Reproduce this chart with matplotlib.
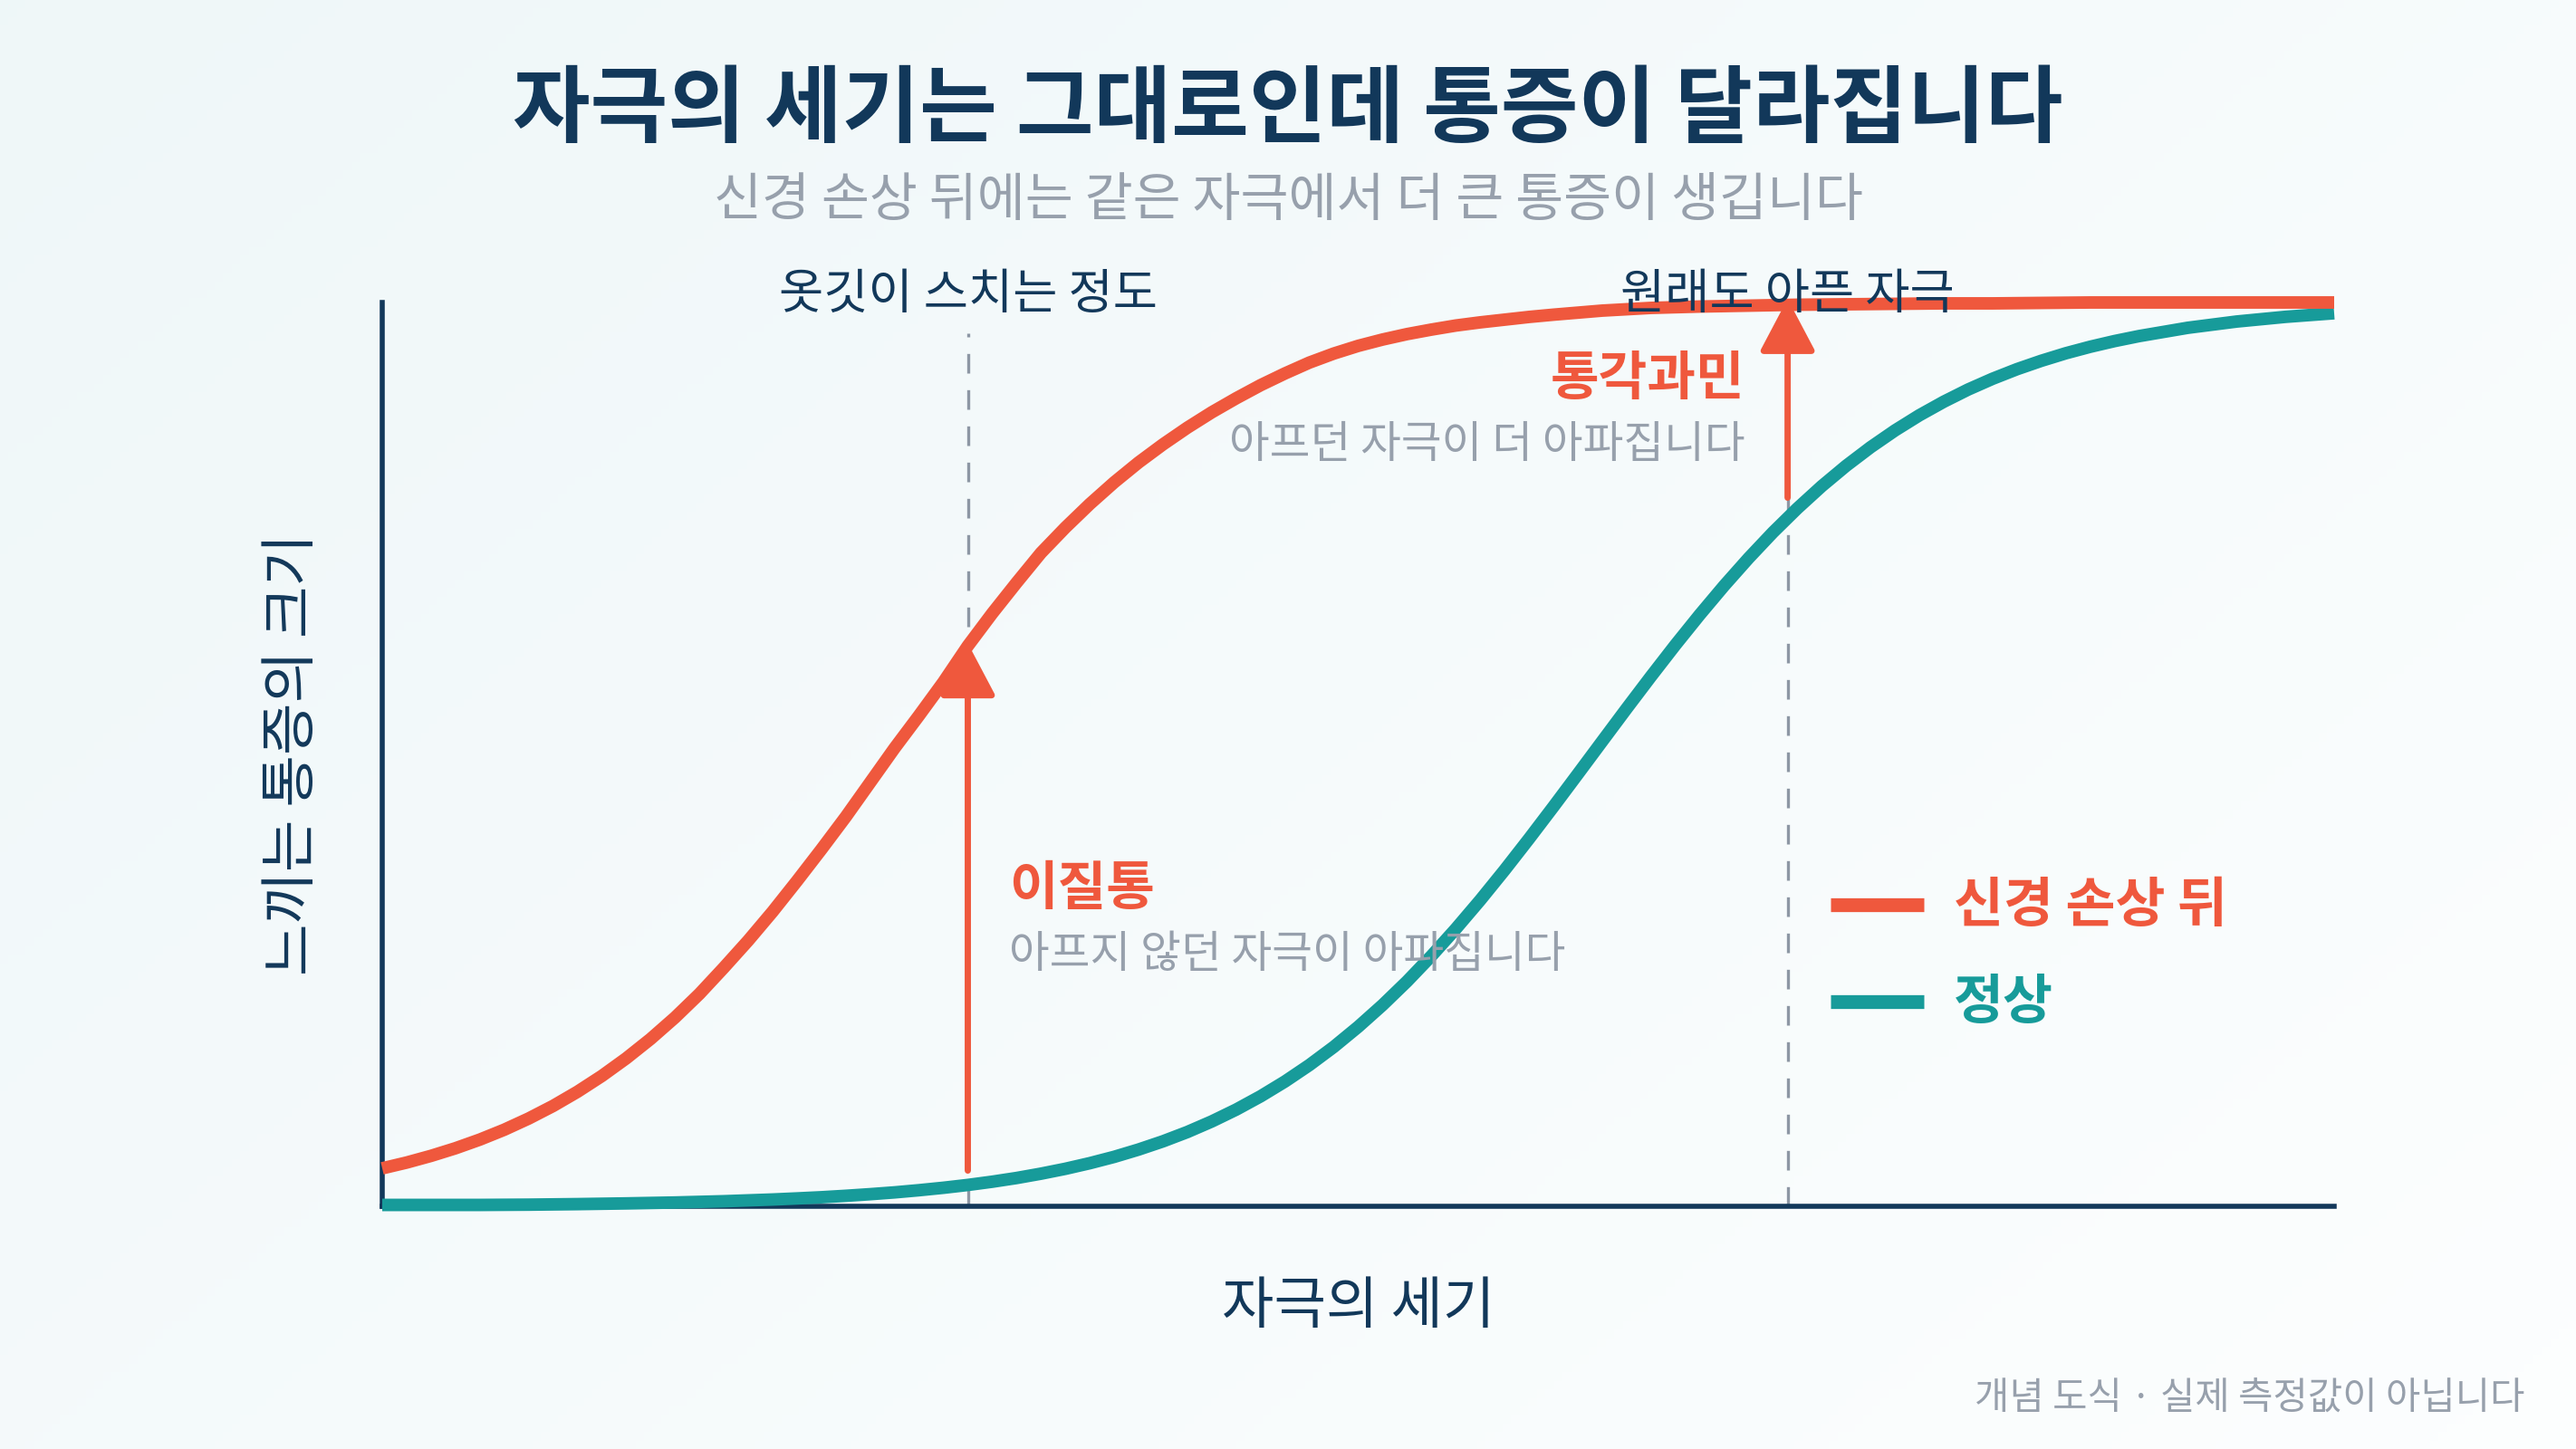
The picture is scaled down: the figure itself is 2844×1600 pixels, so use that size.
import matplotlib
matplotlib.use("Agg")
import matplotlib.pyplot as plt
import numpy as np

plt.rcParams['font.family'] = ['Noto Sans CJK KR', 'DejaVu Sans']

NAVY = '#12385a'
RED = '#ef583d'
TEAL = '#179b9a'
GRAY = '#97a0ac'
DASH = '#8d97a4'

# stimulus strength (0-100) vs perceived pain (0-100)
injury_x = [0, 1.25, 2.5, 3.75, 5, 6.25, 7.5, 8.75, 10, 11.25, 12.5, 13.75,
            15, 16.25, 17.5, 18.75, 20, 21.25, 22.5, 23.75, 25, 26.25, 27.5,
            28.75, 30, 31.25, 32.5, 33.75, 35, 36.25, 37.5, 38.75, 40, 41.25,
            42.5, 43.75, 45, 46.25, 47.5, 48.75, 50, 51.25, 52.5, 53.75, 55,
            56.25, 57.5, 58.75, 60, 62.5, 65, 67.5, 70, 72.5, 75, 77.5, 80,
            82.5, 85, 87.5, 90, 92.5, 95, 97.5, 100]
after_injury = [4.2, 4.84, 5.58, 6.42, 7.38, 8.47, 9.71, 11.1, 12.67, 14.42,
                16.37, 18.52, 20.89, 23.5, 26.4, 29.4, 32.6, 36.0, 39.5, 43.1,
                46.9, 50.7, 54.3, 58.0, 62.0, 65.6, 69.0, 72.3, 75.1, 77.7,
                80.1, 82.3, 84.3, 86.15, 87.85, 89.4, 90.85, 92.15, 93.35,
                94.35, 95.2, 95.9, 96.5, 97.0, 97.45, 97.8, 98.1, 98.4, 98.65,
                99.1, 99.4, 99.55, 99.65, 99.75, 99.8, 99.85, 99.9, 99.9,
                99.95, 100, 100, 100, 100, 100, 100]

normal_x = [0, 2.5, 5, 7.5, 10, 12.5, 15, 17.5, 20, 21.25, 22.5, 23.75, 25,
            26.25, 27.5, 28.75, 30, 31.25, 32.5, 33.75, 35, 36.25, 37.5, 38.75,
            40, 41.25, 42.5, 43.75, 45, 46.25, 47.5, 48.75, 50, 51.25, 52.5,
            53.75, 55, 56.25, 57.5, 58.75, 60, 61.25, 62.5, 63.75, 65, 66.25,
            67.5, 68.75, 70, 71.25, 72.5, 73.75, 75, 76.25, 77.5, 78.75, 80,
            81.25, 82.5, 83.75, 85, 86.25, 87.5, 88.75, 90, 92.5, 95, 97.5, 100]
normal = [0.15, 0.15, 0.15, 0.18, 0.24, 0.32, 0.42, 0.56, 0.75, 0.87, 1.0,
          1.16, 1.34, 1.54, 1.78, 2.05, 2.36, 2.72, 3.13, 3.61, 4.15, 4.77,
          5.47, 6.28, 7.19, 8.22, 9.39, 10.7, 12.17, 13.81, 15.63, 17.64,
          19.86, 22.27, 24.88, 27.7, 30.7, 33.87, 37.2, 40.66, 44.21, 47.82,
          51.45, 55.07, 58.63, 62.11, 65.46, 68.67, 71.71, 74.57, 77.22,
          79.68, 81.93, 83.98, 85.84, 87.52, 89.02, 90.37, 91.56, 92.62,
          93.55, 94.38, 95.1, 95.73, 96.28, 97.2, 97.89, 98.41, 98.81]

marks = [30, 72]
mark_labels = ['옷깃이 스치는 정도', '원래도 아픈 자극']
arrow_from = [3.95, 78.4]
arrow_to = [62.3, 100.4]

series_names = ['신경 손상 뒤', '정상']

fig = plt.figure(figsize=(28.44, 16), dpi=100)

# soft background wash
bg = fig.add_axes([0, 0, 1, 1], zorder=-10)
gx, gy = np.meshgrid(np.linspace(0, 1, 300), np.linspace(0, 1, 170))
t = np.clip((gx * 0.6 + gy * 0.4), 0, 1)[..., None]
c0 = np.array([0.937, 0.969, 0.975])
c1 = np.array([0.99, 0.997, 0.998])
bg.imshow(c0 * (1 - t) + c1 * t, aspect='auto', extent=[0, 1, 0, 1], origin='upper')
bg.axis('off')

ax = fig.add_axes([422 / 2844, 1 - 1332 / 1600, 2155 / 2844, 998 / 1600])
ax.set_facecolor('none')
ax.set_xlim(0, 100)
ax.set_ylim(0, 100)
ax.set_xticks([])
ax.set_yticks([])
for s in ['top', 'right']:
    ax.spines[s].set_visible(False)
for s in ['left', 'bottom']:
    ax.spines[s].set_color(NAVY)
    ax.spines[s].set_linewidth(4)

# guide lines
for xm, lab in zip(marks, mark_labels):
    ax.plot([xm, xm], [0, 96.6], color=DASH, lw=2.4, ls=(0, (6.5, 5.5)), zorder=1)
    ax.text(xm, 100.9, lab, ha='center', va='center', fontsize=38.5, color=NAVY, zorder=6)

ax.plot(normal_x, normal, color=TEAL, lw=10, solid_capstyle='butt', zorder=3, clip_on=False)
ax.plot(injury_x, after_injury, color=RED, lw=10, solid_capstyle='butt', zorder=4, clip_on=False)

for xm, y0, y1 in zip(marks, arrow_from, arrow_to):
    ax.annotate('', xy=(xm, y1), xytext=(xm, y0), annotation_clip=False,
                arrowprops=dict(arrowstyle='-|>,head_length=3.6,head_width=1.9',
                                color=RED, lw=5, shrinkA=0, shrinkB=0, mutation_scale=10),
                zorder=5)

ax.text(32.1, 35.1, '이질통', ha='left', va='center', fontsize=42, fontweight='bold', color=RED)
ax.text(32.1, 27.8, '아프지 않던 자극이 아파집니다', ha='left', va='center', fontsize=35, color=GRAY)
ax.text(69.8, 91.5, '통각과민', ha='right', va='center', fontsize=42, fontweight='bold', color=RED)
ax.text(69.8, 84.2, '아프던 자극이 더 아파집니다', ha='right', va='center', fontsize=35, color=GRAY)

# legend
for yl, name, col in zip([33.4, 22.6], series_names, [RED, TEAL]):
    ax.plot([74.2, 79.0], [yl, yl], color=col, lw=11, solid_capstyle='butt')
    ax.text(80.5, yl - 0.2, name, ha='left', va='center', fontsize=43, fontweight='bold', color=col)

ax.set_xlabel('자극의 세기', fontsize=45, color=NAVY, va='center')
ax.xaxis.set_label_coords(0.5, -0.111)
ax.set_ylabel('느끼는 통증의 크기', fontsize=45, color=NAVY, va='center')
ax.yaxis.set_label_coords(-0.046, 0.5)

fig.text(0.5, 1 - 122 / 1600, '자극의 세기는 그대로인데 통증이 달라집니다',
         ha='center', va='center', fontsize=67, fontweight='bold', color=NAVY)
fig.text(0.5, 1 - 222 / 1600, '신경 손상 뒤에는 같은 자극에서 더 큰 통증이 생깁니다',
         ha='center', va='center', fontsize=41.5, color=GRAY)
fig.text(2788 / 2844, 1 - 1545 / 1600, '개념 도식 · 실제 측정값이 아닙니다',
         ha='right', va='center', fontsize=30, color=GRAY)

fig.savefig('out.png', dpi=100, facecolor=fig.get_facecolor())
